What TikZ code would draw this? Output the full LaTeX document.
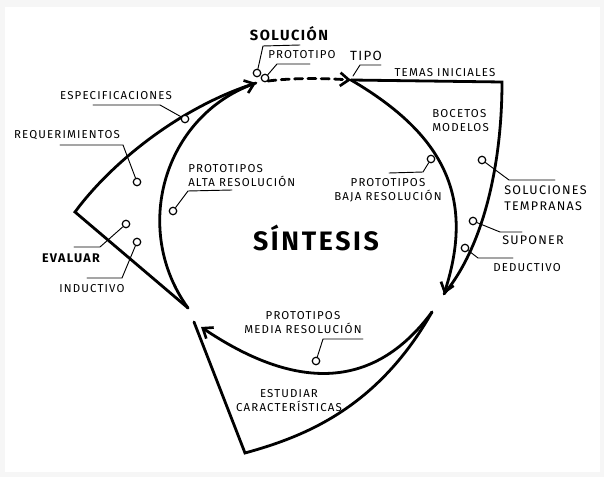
\documentclass[tikz,border=0pt]{standalone}
\usepackage{fontspec}
\setmainfont{Fira Sans}[LetterSpace=10]
\usetikzlibrary{arrows.meta}
\begin{document}
\begin{tikzpicture}[x=0.75pt,y=-0.75pt,
  stroke/.style={line width=2.1pt, line cap=round, line join=miter},
  leader/.style={line width=0.7pt, line cap=round},
  dot/.style={circle, draw, line width=0.9pt, minimum size=5.6pt, inner sep=0pt, fill=white},
  lbl/.style={font=\fontsize{8.6}{10.5}\selectfont, inner sep=0pt, align=center},
  lbll/.style={lbl, align=left},
  bigl/.style={font=\bfseries\fontsize{11}{13}\selectfont, inner sep=0pt},
  tip/.style={-{Straight Barb[length=6.5pt,width=10pt,line width=2pt]}}
]
\useasboundingbox (0,0) rectangle (604,477);
\fill[gray!7] (0,0) rectangle (604,477);
\fill[white] (5,7) rectangle (600,472);

% main junctions
\coordinate (P2) at (256,83);
\coordinate (B) at (188,308);
\coordinate (L) at (75,212);
\coordinate (D0) at (268,81);
\coordinate (T) at (351,80);
\coordinate (R) at (502,82);
\coordinate (Q) at (444,294);
\coordinate (BR) at (432,312);
\coordinate (A) at (201,327);
\coordinate (S) at (194,322);
\coordinate (BL) at (245,453);

% left sector
\draw[stroke,tip] (B) .. controls (131,229) and (164,117) .. (P2);
\draw[stroke] (B) -- (L) .. controls (111,163) and (180,107) .. (P2);
% top dashed
\draw[stroke,dash pattern=on 6pt off 4pt,tip] (D0) .. controls (292,78) and (320,78) .. (T);
% right sector
\draw[stroke,tip] (T) .. controls (445,135) and (475,198) .. (Q);
\draw[stroke] (T) -- (R) .. controls (502,163) and (484,246) .. (Q);
% bottom sector
\draw[stroke,tip] (BR) .. controls (372,393) and (293,389) .. (A);
\draw[stroke] (BR) .. controls (377,409) and (303,437) .. (BL) -- (S);

% markers
\node[dot] (dSol) at (257,73) {};
\node[dot] (dProt) at (265,78) {};
\node[dot] (dBaja) at (431,159) {};
\node[dot] (dSolT) at (482,160) {};
\node[dot] (dSup) at (473,221) {};
\node[dot] (dDed) at (465,248) {};
\node[dot] (dAlta) at (173,211) {};
\node[dot] (dEsp) at (185,119) {};
\node[dot] (dReq) at (137,182) {};
\node[dot] (dEval) at (126,224) {};
\node[dot] (dInd) at (137,242) {};
\node[dot] (dMed) at (316,361) {};

% leaders
\draw[leader] (dSol) -- (263,46) -- (300,45);
\draw[leader] (dProt) -- (277,64) -- (310,64);
\draw[leader] (353,76) -- (360,65) -- (381,65);
\draw[leader] (dBaja) -- (423,172) -- (389,173);
\draw[leader] (dSolT) -- (509,180) -- (555,180);
\draw[leader] (dSup) -- (500,232) -- (522,232);
\draw[leader] (dDed) -- (478,258) -- (513,258);
\draw[leader] (dAlta) -- (188,191) -- (232,190);
\draw[leader] (dEsp) -- (160,105) -- (93,105);
\draw[leader] (dReq) -- (123,145) -- (60,145);
\draw[leader] (dEval) -- (100,247) -- (74,247);
\draw[leader] (dInd) -- (122,278) -- (87,278);
\draw[leader] (dMed) -- (323,339) -- (363,339);

% labels
\node[bigl] (solucion) at (289,34) {SOLUCIÓN};
\node[lbl] (prototipo) at (302,55) {PROTOTIPO};
\node[lbl,font=\fontsize{10}{12}\selectfont] (tipo) at (366,56) {TIPO};
\node[lbl] (temas) at (445,73) {TEMAS INICIALES};
\node[lbll,anchor=west] (bocetos) at (432,121) {BOCETOS\\MODELOS};
\node[lbl] (baja) at (388,190) {PROTOTIPOS\\BAJA RESOLUCIÓN};
\node[lbll,anchor=west,font=\fontsize{9.4}{12}\selectfont] (soluciones) at (504,198) {SOLUCIONES\\TEMPRANAS};
\node[lbl,anchor=west,font=\fontsize{9.4}{12}\selectfont] (suponer) at (502,240) {SUPONER};
\node[lbl,anchor=west] (deductivo) at (493,268) {DEDUCTIVO};
\node[font=\bfseries\fontsize{20}{24}\selectfont, inner sep=0pt] (sintesis) at (316,238) {SÍNTESIS};
\node[lbll,anchor=west] (alta) at (188,176) {PROTOTIPOS\\ALTA RESOLUCIÓN};
\node[lbl] (espec) at (116,96) {ESPECIFICACIONES};
\node[lbl] (requer) at (67,135) {REQUERIMIENTOS};
\node[lbl,font=\bfseries\fontsize{9.4}{11}\selectfont] (evaluar) at (71,258) {EVALUAR};
\node[lbl] (inductivo) at (92,289) {INDUCTIVO};
\node[lbl] (media) at (303,323) {PROTOTIPOS\\MEDIA RESOLUCIÓN};
\node[lbl] (estudiar) at (289,401) {ESTUDIAR\\CARACTERÍSTICAS};
\end{tikzpicture}
\end{document}
